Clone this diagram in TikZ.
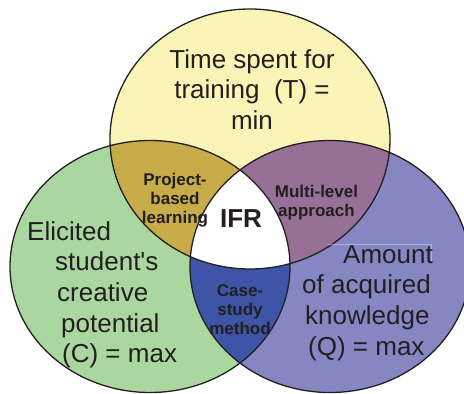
\documentclass[tikz,border=0pt]{standalone}
\usepackage{fontspec}
\setmainfont{Liberation Sans}
\definecolor{cyellow}{RGB}{250,245,182}
\definecolor{cgreen}{RGB}{170,214,160}
\definecolor{cblue}{RGB}{134,134,194}
\definecolor{cgold}{RGB}{200,172,74}
\definecolor{cmauve}{RGB}{150,112,150}
\definecolor{cdark}{RGB}{62,84,166}
\definecolor{ink}{RGB}{35,31,32}
\tikzset{
  bigtext/.style={anchor=base, inner sep=0pt, text=ink, font=\fontsize{26}{30.7}\selectfont},
  smalltext/.style={anchor=base, inner sep=0pt, text=ink, font=\bfseries\fontsize{17}{19}\selectfont},
  outline/.style={draw=ink, line width=1.3pt}
}
\newcommand{\ellY}{(250,139) ellipse [x radius=140, y radius=130]}
\newcommand{\ellG}{(150,266.5) ellipse [x radius=140, y radius=126]}
\newcommand{\ellB}{(330,266.5) ellipse [x radius=140, y radius=126]}
\begin{document}
\begin{tikzpicture}[x=1pt, y=-1pt]
\useasboundingbox (0,0) rectangle (464,394);
\fill[white] (0,0) rectangle (464,394);
% base fills
\fill[cyellow] \ellY;
\fill[cgreen] \ellG;
\fill[cblue] \ellB;
% pairwise overlaps
\begin{scope}\clip \ellY; \fill[cgold] \ellG; \end{scope}
\begin{scope}\clip \ellY; \fill[cmauve] \ellB; \end{scope}
\begin{scope}\clip \ellG; \fill[cdark] \ellB; \end{scope}
% triple overlap
\begin{scope}\clip \ellY; \clip \ellG; \fill[white] \ellB; \end{scope}
% outlines
\draw[outline] \ellY;
\draw[outline] \ellG;
\draw[outline] \ellB;
% faint text-box artefact
\draw[white, opacity=0.35, line width=0.6pt] (328,244.5) -- (431,244.5) -- (431,263);
% texts
\node[bigtext] (ttext) at (252,68) {\begin{tabular}[t]{@{}c@{}}Time spent for\\training\ \ (T) =\\min\end{tabular}};
\node[bigtext, anchor=base west] (ctext) at (27,240) {\begin{tabular}[t]{@{}l@{}}Elicited\\\hspace*{28pt}student\textquotesingle s\\\hspace*{30pt}creative\\\hspace*{34pt}potential\\\hspace*{35pt}(C) = max\end{tabular}};
\node[bigtext, anchor=base west] (qtext) at (302,263) {\begin{tabular}[t]{@{}l@{}}\hspace*{41pt}Amount\\of acquired\\\hspace*{3pt}knowledge\\\hspace*{6pt}(Q) = max\end{tabular}};
\node[smalltext] (pbl) at (175,185) {\begin{tabular}[t]{@{}c@{}}Project-\\based\\learning\end{tabular}};
\node[smalltext] (mla) at (316.5,197) {\begin{tabular}[t]{@{}c@{}}Multi-level\\approach\end{tabular}};
\node[smalltext] (csm) at (240,296) {\begin{tabular}[t]{@{}c@{}}Case-\\study\\method\end{tabular}};
\node[anchor=base, inner sep=0pt, text=ink, font=\bfseries\fontsize{26}{30}\selectfont] (ifr) at (241,227) {IFR};
\end{tikzpicture}
\end{document}
